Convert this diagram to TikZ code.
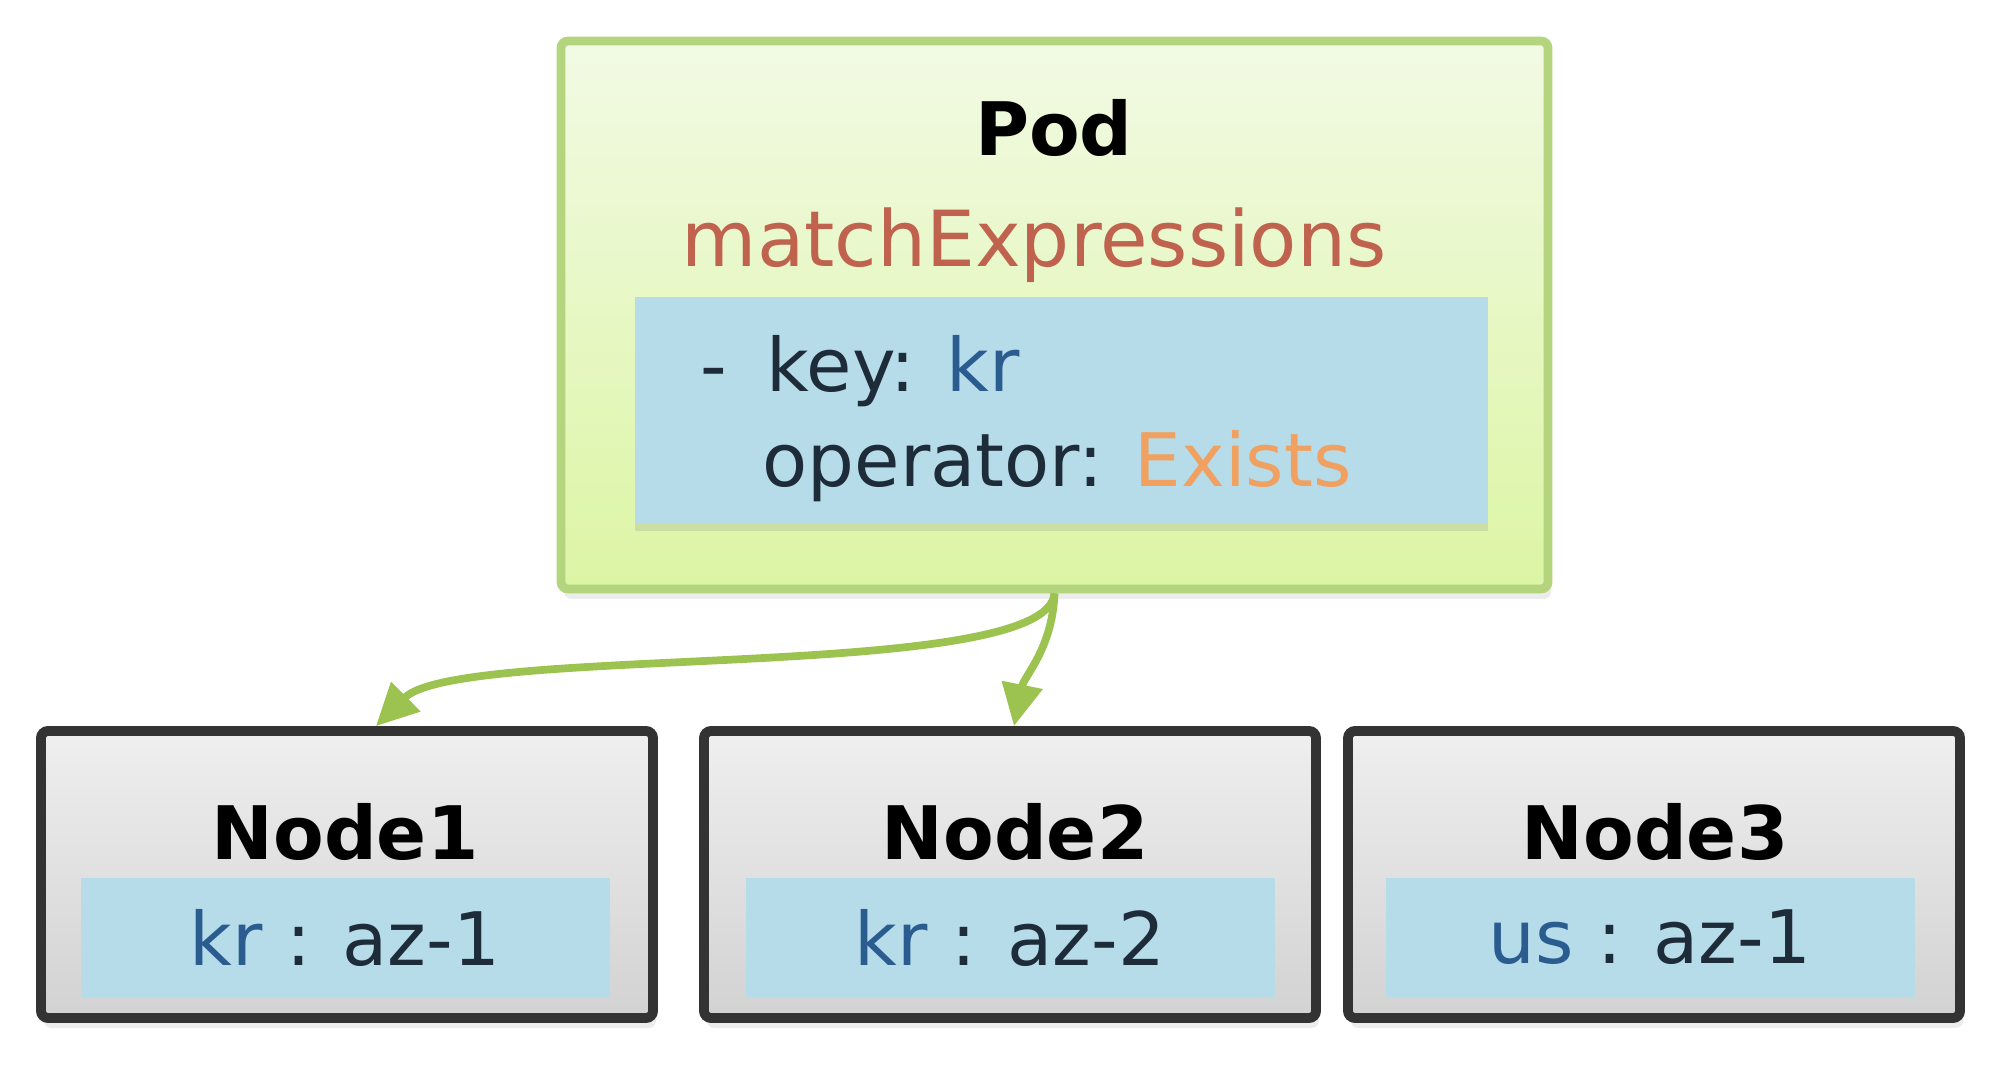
\documentclass[tikz,border=0pt]{standalone}
\usepackage{fontspec}
\setmainfont{DejaVu Sans}
\usetikzlibrary{arrows.meta,shadows}

\definecolor{podtop}{HTML}{F2FAE4}
\definecolor{podbot}{HTML}{DCF5A4}
\definecolor{podline}{HTML}{B4D47E}
\definecolor{rulefill}{HTML}{B6DCEA}
\definecolor{nodetop}{HTML}{EFEFEF}
\definecolor{nodebot}{HTML}{D2D2D2}
\definecolor{nodeline}{HTML}{333333}
\definecolor{txtdark}{HTML}{1E2B38}
\definecolor{exprred}{HTML}{C0634E}
\definecolor{keyblue}{HTML}{2B5C8F}
\definecolor{oporange}{HTML}{F0A060}
\definecolor{linkgreen}{HTML}{9CC250}

\newcommand{\labsize}{\fontsize{21}{25}\selectfont}

\tikzset{
  podbox/.style={draw=podline, line width=2.5pt, top color=podtop, bottom color=podbot,
    rounded corners=2pt, minimum width=9.87cm, minimum height=5.48cm, inner sep=0pt,
    drop shadow={opacity=0.15, shadow xshift=0.03cm, shadow yshift=-0.1cm}},
  rulebox/.style={fill=rulefill, minimum width=8.53cm, minimum height=2.27cm, inner sep=0pt,
    drop shadow={opacity=0.2, shadow xshift=0cm, shadow yshift=-0.07cm}},
  hostbox/.style={draw=nodeline, line width=2.8pt, top color=nodetop, bottom color=nodebot,
    rounded corners=2pt, minimum width=6.12cm, minimum height=2.87cm, inner sep=0pt,
    drop shadow={opacity=0.15, shadow xshift=0.03cm, shadow yshift=-0.1cm}},
  labelbox/.style={fill=rulefill, minimum width=5.29cm, minimum height=1.19cm, inner sep=0pt,
    text=txtdark, font=\labsize},
  title/.style={anchor=base, text=black, font=\labsize\bfseries},
  ruletext/.style={anchor=base west, inner sep=0pt, text=txtdark, font=\labsize},
  link/.style={draw=linkgreen, line width=2.2pt, -{Triangle[width=0.4cm,length=0.42cm]}}
}

\begin{document}
\begin{tikzpicture}
\useasboundingbox (0,0) rectangle (20,10.88);

% Pod with its selector
\node[podbox] (pod) at (10.545,7.73) {};
\node[title] (podtitle) at (10.54,9.32) {Pod};
\node[anchor=base, text=exprred, font=\fontsize{22}{26}\selectfont] (podexpr) at (10.34,8.21) {matchExpressions};
\node[rulebox] (podrule) at (10.615,6.775) {};
\node[ruletext] (podkey) at (7.0,6.96) {\makebox[0.66cm][l]{-}key: \textcolor{keyblue}{kr}};
\node[ruletext] (podop) at (7.62,6.01) {operator: \textcolor{oporange}{Exists}};

% Nodes with their labels
\node[hostbox] (node1) at (3.47,2.135) {};
\node[hostbox] (node2) at (10.10,2.135) {};
\node[hostbox] (node3) at (16.54,2.135) {};

\node[title] (node1title) at (3.45,2.28) {Node1};
\node[title] (node2title) at (10.15,2.28) {Node2};
\node[title] (node3title) at (16.55,2.28) {Node3};

\node[labelbox] (node1lab) at (3.45,1.505) {\textcolor{keyblue}{kr} : az-1};
\node[labelbox] (node2lab) at (10.10,1.505) {\textcolor{keyblue}{kr} : az-2};
\node[labelbox] (node3lab) at (16.50,1.505) {\textcolor{keyblue}{us} : az-1};

% Scheduling arrows
\draw[link] (pod.south) .. controls +(-0.07,-0.9) and +(0.84,0.83) .. ([xshift=0.29cm]node1.north);
\draw[link] (pod.south) .. controls +(-0.02,-0.55) and +(0.1,0.5) .. ([xshift=0.04cm]node2.north);

\end{tikzpicture}
\end{document}
